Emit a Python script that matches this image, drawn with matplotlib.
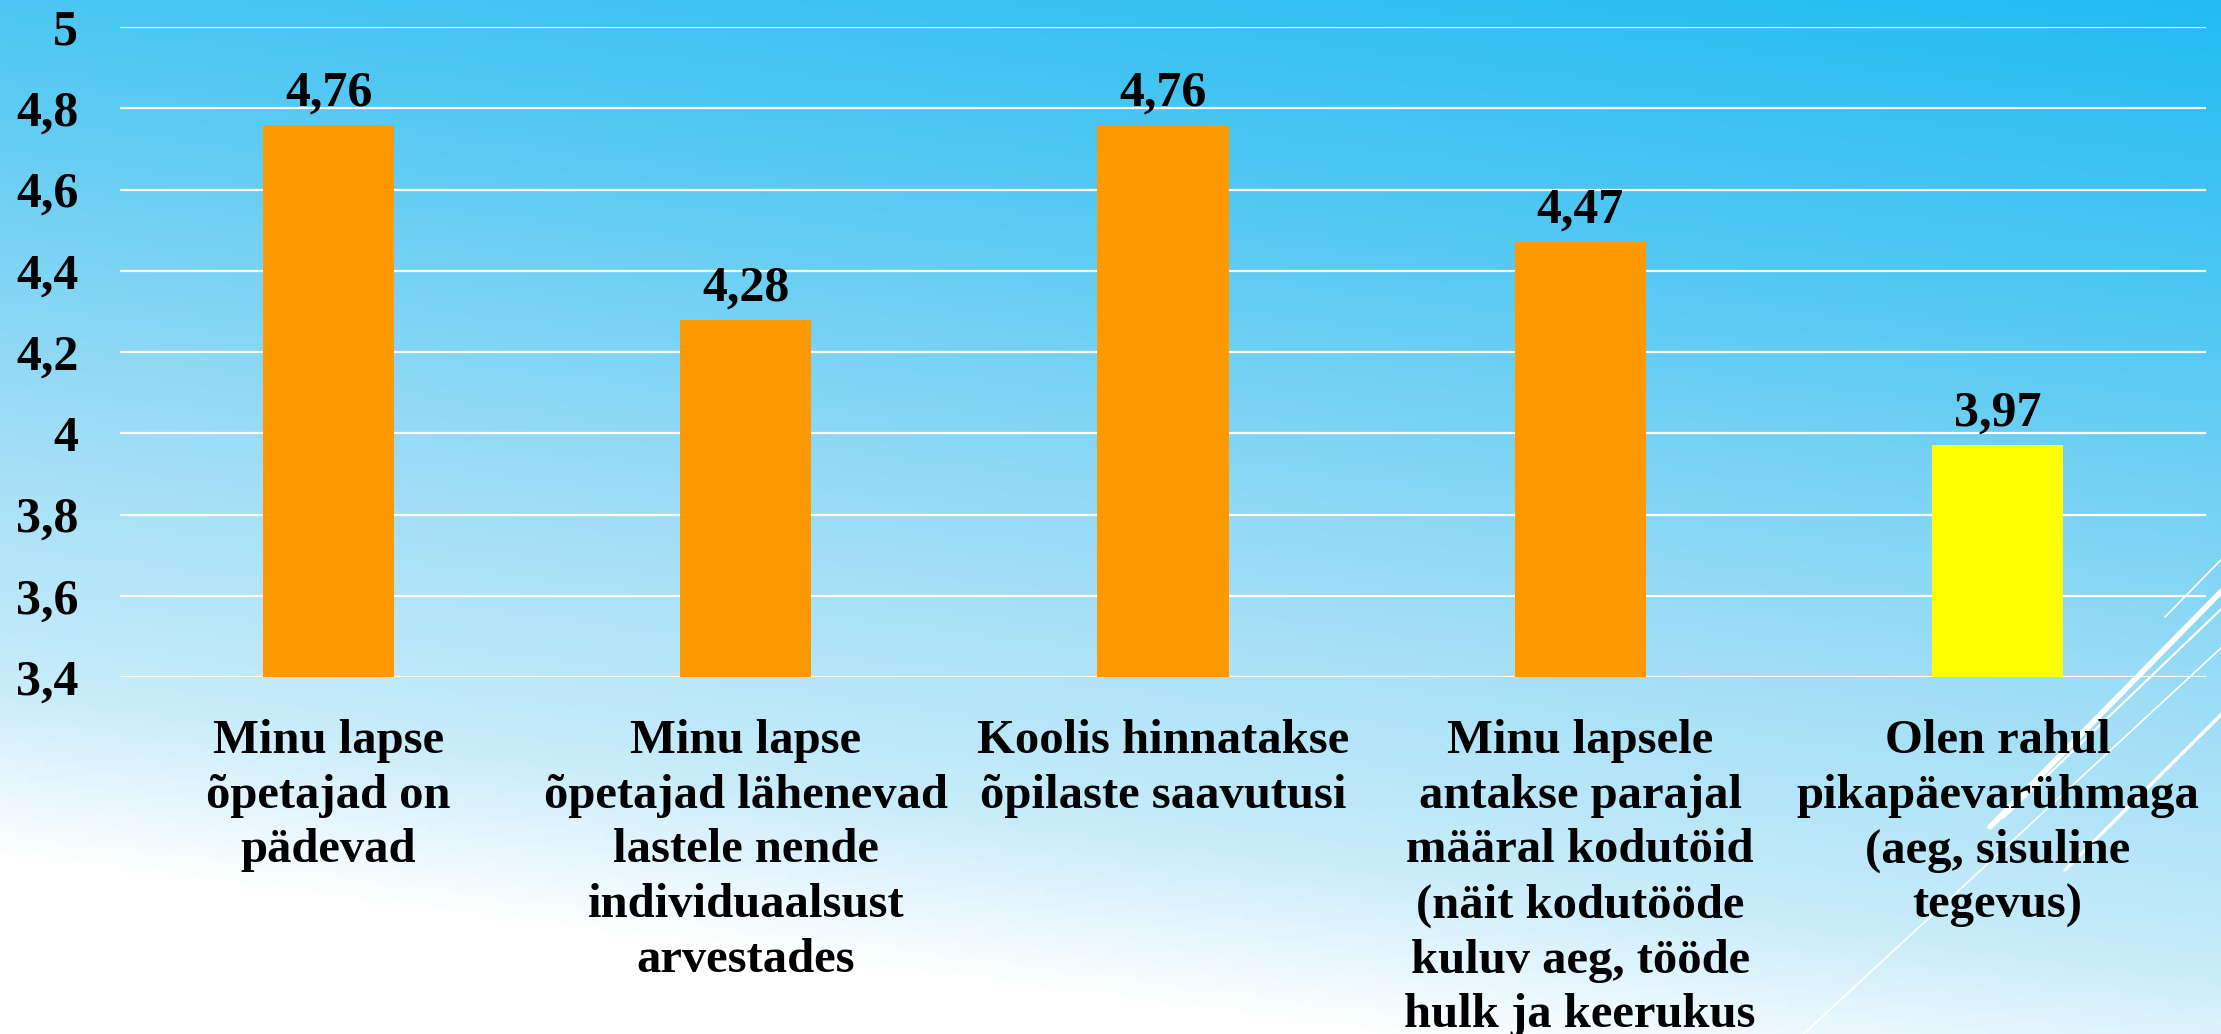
import numpy as np
import matplotlib
matplotlib.use("Agg")
import matplotlib.pyplot as plt
from matplotlib import font_manager
from matplotlib.colors import LinearSegmentedColormap
from matplotlib.lines import Line2D

# data
categories = [
    "Minu lapse\nõpetajad on\npädevad",
    "Minu lapse\nõpetajad lähenevad\nlastele nende\nindividuaalsust\narvestades",
    "Koolis hinnatakse\nõpilaste saavutusi",
    "Minu lapsele\nantakse parajal\nmääral kodutöid\n(näit kodutööde\nkuluv aeg, tööde\nhulk ja keerukus",
    "Olen rahul\npikapäevarühmaga\n(aeg, sisuline\ntegevus)",
]
values = [4.76, 4.28, 4.76, 4.47, 3.97]
bar_colors = ["#FF9900", "#FF9900", "#FF9900", "#FF9900", "#FFFF00"]
y_ticks = [3.4, 3.6, 3.8, 4.0, 4.2, 4.4, 4.6, 4.8, 5.0]

plt.rcParams['font.family'] = 'serif'
plt.rcParams['font.serif'] = ['Liberation Serif', 'DejaVu Serif']
serif_file = font_manager.findfont(font_manager.FontProperties(family='serif', weight='bold'))
fp_big = font_manager.FontProperties(fname=serif_file, size=36)
fp_cat = font_manager.FontProperties(fname=serif_file, size=35)

W, H = 2221, 1034
fig = plt.figure(figsize=(W / 100, H / 100), dpi=100)

# background gradient (blue top-right -> white bottom-left)
bg = fig.add_axes([0, 0, 1, 1], zorder=-10)
xx, yy = np.meshgrid(np.linspace(0, 1, 400), np.linspace(0, 1, 200))
t = np.clip(0.9 * yy + 0.25 * (1 - xx), 0, 1)
cmap = LinearSegmentedColormap.from_list("bg", [
    (0.0, "#22bcf2"), (0.3, "#55c9f3"), (0.6, "#9adcf6"),
    (0.85, "#c8ecfa"), (1.0, "#ffffff")])
bg.imshow(t, cmap=cmap, aspect="auto", extent=[0, 1, 1, 0], vmin=0, vmax=1)
bg.axis("off")

# decorative diagonal lines (pixel coords, y down)
deco = [((2165, 617), (2260, 520), 1.2),
        ((1990, 827), (2260, 552), 4.0),
        ((2003, 818), (2260, 572), 1.6),
        ((1797, 1040), (2260, 612), 1.2),
        ((2065, 870), (2260, 676), 2.5)]
for (x0, y0), (x1, y1), lw in deco:
    fig.add_artist(Line2D([x0 / W, x1 / W], [1 - y0 / H, 1 - y1 / H],
                          transform=fig.transFigure, color="white", lw=lw,
                          solid_capstyle="round", zorder=-5))

ax = fig.add_axes([120 / W, 1 - 677 / H, (2206 - 120) / W, (677 - 27) / H])
ax.patch.set_alpha(0)
x = np.arange(len(values))
ax.bar(x, values, width=0.314, color=bar_colors, zorder=3)
ax.set_ylim(3.4, 5.0)
ax.set_xlim(-0.5, len(values) - 0.5)
ax.set_yticks(y_ticks)
ax.set_yticklabels([("%g" % v).replace(".", ",") for v in y_ticks],
                   fontproperties=fp_big)
ax.tick_params(axis="y", length=0, pad=30)
ax.set_xticks(x)
ax.set_xticklabels(categories, fontproperties=fp_cat,
                   linespacing=1.32, va="top")
ax.tick_params(axis="x", length=0, pad=30)
for s in ax.spines.values():
    s.set_visible(False)
ax.yaxis.grid(True, color="white", lw=1.6, zorder=1)
ax.set_axisbelow(True)

for xi, v in zip(x, values):
    ax.annotate(("%.2f" % v).replace(".", ","), (xi, v),
                xytext=(0, 6), textcoords="offset points",
                ha="center", va="bottom", fontproperties=fp_big)

fig.savefig("out.png", dpi=100)
